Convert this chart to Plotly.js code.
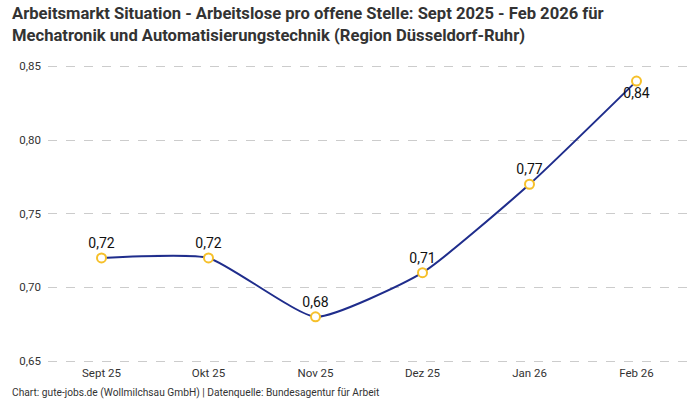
<!DOCTYPE html>
<html>
<head>
<meta charset="utf-8">
<script src="https://cdn.plot.ly/plotly-3.0.1.min.js"></script>
<style>
  html, body { margin: 0; padding: 0; background: #fff; }
  #chart { width: 700px; height: 400px; }
</style>
</head>
<body>
<div id="chart"></div>
<script>
// Arbeitslose pro offene Stelle, Mechatronik (Region Düsseldorf-Ruhr)
const months = ["Sept 25", "Okt 25", "Nov 25", "Dez 25", "Jan 26", "Feb 26"];
const ratio = [0.72, 0.72, 0.68, 0.71, 0.77, 0.84];
const labelPos = ["top center", "top center", "top center", "top center", "top center", "bottom center"];
const yTicks = [0.65, 0.70, 0.75, 0.80, 0.85];

const fontFamily = "Roboto, Noto Sans, sans-serif";
const deNum = (v) => v.toFixed(2).replace(".", ",");

const trace = {
  x: months,
  y: ratio,
  type: "scatter",
  mode: "lines+markers+text",
  line: { color: "#1f2d8c", width: 2, shape: "spline", smoothing: 0.5 },
  marker: { symbol: "circle", size: 9, color: "#ffffff", line: { color: "#f6c02a", width: 2 } },
  text: ratio.map(deNum),
  textposition: labelPos,
  textfont: { family: fontFamily, size: 14, color: "#111111" },
  cliponaxis: false,
  hoverinfo: "skip",
};

const layout = {
  width: 700,
  height: 400,
  margin: { l: 48, r: 10, t: 59, b: 36 },
  paper_bgcolor: "#ffffff",
  plot_bgcolor: "#ffffff",
  showlegend: false,
  font: { family: fontFamily, color: "#333333", size: 11 },
  xaxis: {
    type: "category",
    range: [-0.5, 5.5],
    showgrid: false,
    showline: false,
    zeroline: false,
    ticks: "",
    tickfont: { family: fontFamily, size: 11.5, color: "#333333" },
  },
  yaxis: {
    range: [0.648, 0.855],
    tickvals: yTicks,
    ticktext: yTicks.map(deNum),
    showgrid: true,
    gridcolor: "#cccccc",
    griddash: "dash",
    gridwidth: 1,
    showline: false,
    zeroline: false,
    ticks: "",
    ticklabelstandoff: 6,
    tickfont: { family: fontFamily, size: 11.5, color: "#333333" },
  },
  annotations: [{
    text: "<b>Arbeitsmarkt Situation - Arbeitslose pro offene Stelle: Sept 2025 - Feb 2026 für<br>Mechatronik und Automatisierungstechnik (Region Düsseldorf-Ruhr)</b>",
    xref: "paper",
    yref: "paper",
    x: -38 / 642,
    y: 1.187,
    xanchor: "left",
    yanchor: "top",
    align: "left",
    showarrow: false,
    font: { family: fontFamily, size: 16.6, color: "#333333" },
  }, {
    text: "Chart: gute-jobs.de (Wollmilchsau GmbH) | Datenquelle: Bundesagentur für Arbeit",
    xref: "paper",
    yref: "paper",
    x: -38 / 642,
    y: -0.095,
    xanchor: "left",
    yanchor: "middle",
    showarrow: false,
    font: { family: fontFamily, size: 10.2, color: "#333333" },
  }],
};

Plotly.newPlot("chart", [trace], layout, { displayModeBar: false, staticPlot: true });
</script>
</body>
</html>
